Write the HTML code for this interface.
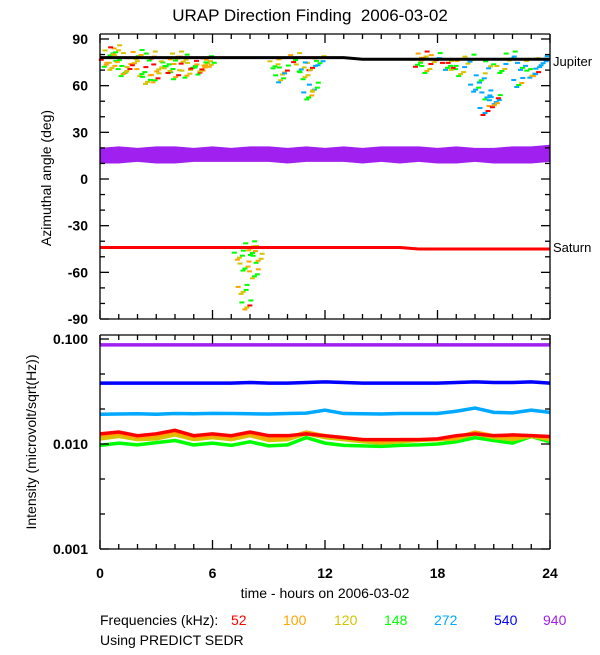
<!DOCTYPE html>
<html><head><meta charset="utf-8"><style>
body{margin:0;background:#fff}
svg text{font-family:"Liberation Sans",sans-serif}
</style></head><body>
<svg id="c" width="600" height="650" xmlns="http://www.w3.org/2000/svg">
<text x="310" y="21" text-anchor="middle" font-size="17" style="white-space:pre">URAP Direction Finding  2006-03-02</text>
<g id="topG"></g>
<g id="botG"></g>
<g id="axesG"></g>
<text transform="translate(51,178) rotate(-90)" text-anchor="middle" font-size="14">Azimuthal angle (deg)</text>
<text transform="translate(36,442) rotate(-90)" text-anchor="middle" font-size="14">Intensity (microvolt/sqrt(Hz))</text>
<text x="325" y="598" text-anchor="middle" font-size="14">time - hours on 2006-03-02</text>
<text x="553" y="66" font-size="13">Jupiter</text>
<text x="553" y="252" font-size="13">Saturn</text>
<text x="100" y="625" font-size="14">Frequencies (kHz):</text>
<text x="100" y="645" font-size="14">Using PREDICT SEDR</text>
<g id="legG"></g>
</svg>
<script>
const freqs=["52","100","120","148","272","540","940"];
const colors=["#ff0000","#ffa500","#d4c400","#00ff00","#00a8ff","#0000ff","#a020f0"];
const legendX=[231,283,334,384,434,494,543];
const hours=[0,1,2,3,4,5,6,7,8,9,10,11,12,13,14,15,16,17,18,19,20,21,22,23,24];
const xTicks=[0,6,12,18,24];
const yTicksTop=[90,60,30,0,-30,-60,-90];
const yTicksBot=["0.100","0.010","0.001"];
const jupiterAngle=[78,78,78,78,78,78,78,78,78,78,78,78,78,78,77,77,77,77,77,77,77,77,77,77,77];
const saturnAngle=[-44,-44,-44,-44,-44,-44,-44,-44,-44,-44,-44,-44,-44,-44,-44,-44,-44,-45,-45,-45,-45,-45,-45,-45,-45];
const purpleLo=[10,10,11,10,10,11,11,11,11,11,10,11,11,11,10,11,10,11,10,10,11,10,10,10,11];
const purpleHi=[20,21,20,21,21,20,21,20,21,21,20,21,20,21,20,21,21,21,20,21,20,20,21,21,22];
const scatterHour=[0.2,0.5,0.9,1.3,1.7,2.1,2.6,3.0,3.4,3.9,4.3,4.8,5.2,5.6,0.4,1.1,1.9,2.8,3.6,4.5,5.3,0.7,2.4,4.0,5.8,9.2,9.7,10.3,10.8,11.2,11.6,9.5,10.6,11.3,11.0,7.3,7.6,7.9,8.1,8.3,7.5,8.0,7.7,16.8,17.3,17.8,18.4,19.1,19.6,20.2,20.7,21.3,21.8,22.4,22.9,23.5,19.9,20.5,21.0,22.2,23.1,20.4,20.9,17.1,18.7];
const scatterAngle=[76,74,79,72,77,70,80,73,75,68,78,74,71,77,82,70,81,66,72,69,73,84,65,80,76,75,71,79,68,74,77,66,73,60,55,-48,-55,-42,-60,-50,-70,-45,-80,76,72,79,74,70,78,66,75,72,80,74,69,77,60,55,52,63,70,45,50,80,74];
const scatterCol=[0,1,2,3,2,1,3,0,2,3,1,2,3,0,2,3,1,2,3,2,1,0,3,2,1,2,3,1,3,2,0,3,2,4,4,3,2,3,1,3,1,2,3,2,3,1,0,3,2,4,3,2,3,4,3,2,4,4,4,4,3,4,4,1,0];
const int52=[0.0125,0.013,0.012,0.0125,0.0135,0.012,0.0125,0.012,0.013,0.012,0.012,0.0125,0.012,0.0115,0.011,0.011,0.011,0.011,0.0112,0.012,0.0125,0.012,0.0122,0.012,0.0118];
const int100=[0.012,0.0125,0.0115,0.012,0.013,0.0115,0.012,0.0115,0.0125,0.0112,0.0115,0.013,0.012,0.0115,0.011,0.0105,0.011,0.011,0.011,0.0115,0.013,0.012,0.0115,0.012,0.0115];
const int120=[0.0112,0.0118,0.011,0.0112,0.0122,0.011,0.0115,0.011,0.012,0.0108,0.011,0.0125,0.0115,0.011,0.0105,0.0102,0.0105,0.0108,0.011,0.0112,0.0125,0.0115,0.011,0.0118,0.011];
const int148=[0.0097,0.0102,0.0098,0.0103,0.0108,0.0098,0.0102,0.0097,0.0105,0.0096,0.0098,0.0115,0.0102,0.0097,0.0096,0.0095,0.0097,0.0098,0.01,0.0105,0.0115,0.0108,0.0102,0.0118,0.0105];
const int272=[0.0192,0.0193,0.0194,0.0192,0.0195,0.0194,0.0196,0.0195,0.0194,0.0193,0.0195,0.0197,0.021,0.0195,0.0194,0.0193,0.0195,0.0195,0.0195,0.0205,0.022,0.02,0.0198,0.021,0.02];
const int540=[0.038,0.038,0.038,0.038,0.038,0.038,0.038,0.038,0.0385,0.038,0.038,0.0385,0.039,0.0385,0.038,0.038,0.038,0.038,0.038,0.0385,0.039,0.0385,0.0385,0.039,0.038];
const int940=[0.088,0.088,0.088,0.088,0.088,0.088,0.088,0.088,0.088,0.088,0.088,0.088,0.088,0.088,0.088,0.088,0.088,0.088,0.088,0.088,0.088,0.088,0.088,0.088,0.088];
const intSeries=[int52,int100,int120,int148,int272,int540,int940];

{
const NS="http://www.w3.org/2000/svg";
const X0=100,X1=550,TT=34,TB=319,BT=335,BB=549;
const xs=h=>X0+(h/24)*(X1-X0);
const ya=a=>179-(a/30)*46.67;
const yi=v=>444-Math.log10(v/0.01)*105;
function mk(tag,attrs,parent){const e=document.createElementNS(NS,tag);for(const k in attrs)e.setAttribute(k,attrs[k]);parent.appendChild(e);return e;}
const topG=document.getElementById('topG'),botG=document.getElementById('botG'),axesG=document.getElementById('axesG'),legG=document.getElementById('legG');

const bandPts=hours.map((h,i)=>xs(h)+','+ya(purpleHi[i])).concat(hours.slice().reverse().map((h,j)=>{const i=hours.length-1-j;return xs(h)+','+ya(purpleLo[i]);})).join(' ');
const band=mk('polygon',{points:bandPts,fill:colors[6]},topG);



const offX=[-5,0,4,-2,3],offY=[-2,3,-4,5,1];
for(let i=0;i<scatterHour.length;i++){
  for(let k=0;k<5;k++){
    const r=mk('rect',{x:xs(scatterHour[i])+offX[k],y:ya(scatterAngle[i])+offY[k],width:5,height:2,fill:colors[scatterCol[(i+k)%scatterCol.length]]},topG);
    
    
  }
}
function line(arr,f,col,w,parent,name){
  const p=mk('polyline',{points:hours.map((h,i)=>xs(h)+','+f(arr[i])).join(' '),fill:'none',stroke:col,'stroke-width':w},parent);
  
  
}
line(jupiterAngle,ya,'#000',3,topG,'jupiter-line');
line(saturnAngle,ya,'#ff0000',3,topG,'saturn-line');
for(let s=intSeries.length-1;s>=0;s--) line(intSeries[s],yi,colors[s],3.5,botG,'intensity-'+freqs[s]+'khz');

function L(x1,y1,x2,y2,name){const l=mk('line',{x1,y1,x2,y2,stroke:'#000','stroke-width':1.3},axesG);}
L(X0,TT,X0,TB,'top-left-axis');L(X1,TT,X1,TB,'top-right-axis');L(X0,TT,X1,TT,'top-top-axis');L(X0,TB,X1,TB,'top-bottom-axis');
L(X0,BT,X0,BB,'bot-left-axis');L(X1,BT,X1,BB,'bot-right-axis');L(X0,BT,X1,BT,'bot-top-axis');L(X0,BB,X1,BB,'bot-bottom-axis');
for(let h=0;h<=24;h++){
  const len=h%6===0?9:5,x=xs(h);
  [[TT,1],[TB,-1],[BT,1],[BB,-1]].forEach(([y,d])=>L(x,y,x,y+d*len,'x-tick'));
}
for(let a=-90;a<=90;a+=10){const len=a%30===0?9:5,y=ya(a);L(X0,y,X0+len,y,'y-tick');L(X1,y,X1-len,y,'y-tick');}
for(let k=0;k<=6;k++){const y=BB-k*35,len=k%3===0?9:5;L(X0,y,X0+len,y,'y-tick');L(X1,y,X1-len,y,'y-tick');}
xTicks.forEach(h=>{const t=mk('text',{x:xs(h),y:578,'text-anchor':'middle','font-size':14,'font-weight':'bold'},axesG);t.textContent=h;});
yTicksTop.forEach(a=>{const t=mk('text',{x:88,y:ya(a)+5,'text-anchor':'end','font-size':14,'font-weight':'bold'},axesG);t.textContent=a;});
yTicksBot.forEach((v,i)=>{const t=mk('text',{x:88,y:339+i*105+5,'text-anchor':'end','font-size':14,'font-weight':'bold'},axesG);t.textContent=v;});
freqs.forEach((f,i)=>{const t=mk('text',{x:legendX[i],y:625,'font-size':14,fill:colors[i]},legG);t.textContent=f;});
}
</script>
</body></html>
